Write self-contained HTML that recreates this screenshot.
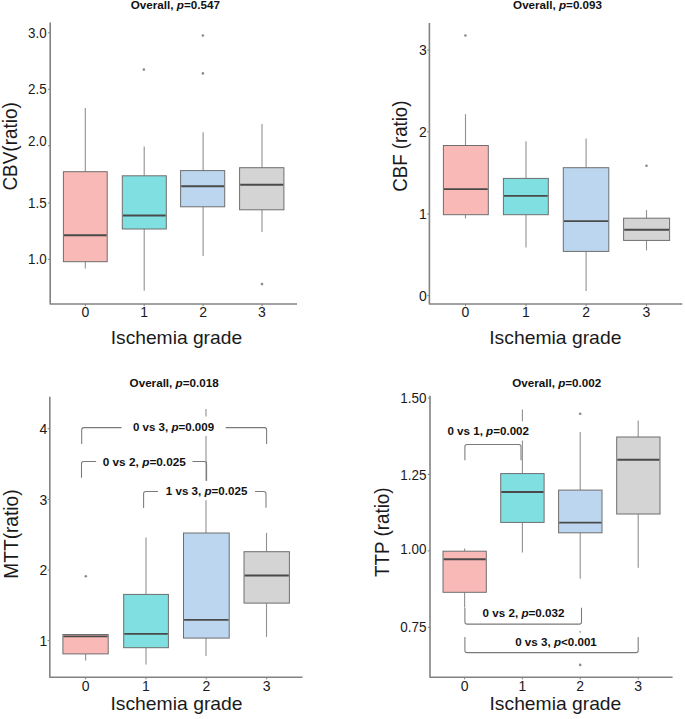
<!DOCTYPE html>
<html><head><meta charset="utf-8"><style>
html,body{margin:0;padding:0;background:#fff;}
svg{display:block;font-family:"Liberation Sans", sans-serif;}
</style></head><body>
<svg width="685" height="719" viewBox="0 0 685 719">
<rect width="685" height="719" fill="#fff"/>
<text x="130.7" y="8.8" font-size="11.6" text-anchor="start" font-weight="bold" fill="#111" textLength="89.3" lengthAdjust="spacingAndGlyphs" >Overall, <tspan font-style="italic">p</tspan>=0.547</text>
<path d="M50.2,22.6 L50.2,304 L297,304" fill="none" stroke="#828282" stroke-width="1.6" stroke-linejoin="round"/>
<line x1="48.0" y1="32.8" x2="50.2" y2="32.8" stroke="#828282" stroke-width="1.0"/>
<text x="46.6" y="37.8" font-size="14" text-anchor="end" font-weight="normal" fill="#1a1a1a" textLength="18.6" lengthAdjust="spacingAndGlyphs" >3.0</text>
<line x1="48.0" y1="89.3" x2="50.2" y2="89.3" stroke="#828282" stroke-width="1.0"/>
<text x="46.6" y="94.3" font-size="14" text-anchor="end" font-weight="normal" fill="#1a1a1a" textLength="18.6" lengthAdjust="spacingAndGlyphs" >2.5</text>
<line x1="48.0" y1="145.8" x2="50.2" y2="145.8" stroke="#828282" stroke-width="1.0"/>
<text x="46.6" y="145.8" font-size="14" text-anchor="end" font-weight="normal" fill="#1a1a1a" textLength="18.6" lengthAdjust="spacingAndGlyphs" >2.0</text>
<line x1="48.0" y1="203" x2="50.2" y2="203" stroke="#828282" stroke-width="1.0"/>
<text x="46.6" y="208.0" font-size="14" text-anchor="end" font-weight="normal" fill="#1a1a1a" textLength="18.6" lengthAdjust="spacingAndGlyphs" >1.5</text>
<line x1="48.0" y1="259.3" x2="50.2" y2="259.3" stroke="#828282" stroke-width="1.0"/>
<text x="46.6" y="264.3" font-size="14" text-anchor="end" font-weight="normal" fill="#1a1a1a" textLength="18.6" lengthAdjust="spacingAndGlyphs" >1.0</text>
<line x1="85.3" y1="304" x2="85.3" y2="306.2" stroke="#828282" stroke-width="1.0"/>
<text x="85.3" y="317.4" font-size="14" text-anchor="middle" font-weight="normal" fill="#1a1a1a" >0</text>
<line x1="144.2" y1="304" x2="144.2" y2="306.2" stroke="#828282" stroke-width="1.0"/>
<text x="144.2" y="317.4" font-size="14" text-anchor="middle" font-weight="normal" fill="#1a1a1a" >1</text>
<line x1="203.1" y1="304" x2="203.1" y2="306.2" stroke="#828282" stroke-width="1.0"/>
<text x="203.1" y="317.4" font-size="14" text-anchor="middle" font-weight="normal" fill="#1a1a1a" >2</text>
<line x1="262" y1="304" x2="262" y2="306.2" stroke="#828282" stroke-width="1.0"/>
<text x="262" y="317.4" font-size="14" text-anchor="middle" font-weight="normal" fill="#1a1a1a" >3</text>
<text x="110.7" y="344" font-size="19" text-anchor="start" font-weight="normal" fill="#1a1a1a" textLength="131.4" lengthAdjust="spacingAndGlyphs" >Ischemia grade</text>
<text transform="translate(16.9,146.4) rotate(-90)" x="0" y="0" font-size="20" text-anchor="middle" fill="#1a1a1a" textLength="88.3" lengthAdjust="spacingAndGlyphs">CBV(ratio)</text>
<line x1="85.3" y1="108" x2="85.3" y2="171.7" stroke="#909090" stroke-width="1.1"/>
<line x1="85.3" y1="261.7" x2="85.3" y2="268.5" stroke="#909090" stroke-width="1.1"/>
<rect x="63.4" y="171.7" width="43.80" height="90.00" fill="#f9b9b6" stroke="#6e6e6e" stroke-width="1.0"/>
<line x1="64.0" y1="235.2" x2="106.60000000000001" y2="235.2" stroke="#4a4a4a" stroke-width="1.9"/>
<line x1="144.2" y1="146.5" x2="144.2" y2="175.8" stroke="#909090" stroke-width="1.1"/>
<line x1="144.2" y1="229.0" x2="144.2" y2="290.7" stroke="#909090" stroke-width="1.1"/>
<rect x="122.3" y="175.8" width="44.00" height="53.20" fill="#7fdfe1" stroke="#6e6e6e" stroke-width="1.0"/>
<line x1="122.89999999999999" y1="215.5" x2="165.70000000000002" y2="215.5" stroke="#4a4a4a" stroke-width="1.9"/>
<line x1="203.1" y1="132.3" x2="203.1" y2="170.6" stroke="#909090" stroke-width="1.1"/>
<line x1="203.1" y1="206.8" x2="203.1" y2="256.0" stroke="#909090" stroke-width="1.1"/>
<rect x="180.6" y="170.6" width="44.10" height="36.20" fill="#bcd6f0" stroke="#6e6e6e" stroke-width="1.0"/>
<line x1="181.2" y1="186.2" x2="224.1" y2="186.2" stroke="#4a4a4a" stroke-width="1.9"/>
<line x1="262.0" y1="123.9" x2="262.0" y2="167.7" stroke="#909090" stroke-width="1.1"/>
<line x1="262.0" y1="209.8" x2="262.0" y2="231.9" stroke="#909090" stroke-width="1.1"/>
<rect x="239.6" y="167.7" width="44.30" height="42.10" fill="#d4d4d4" stroke="#6e6e6e" stroke-width="1.0"/>
<line x1="240.2" y1="184.8" x2="283.29999999999995" y2="184.8" stroke="#4a4a4a" stroke-width="1.9"/>
<circle cx="143.9" cy="69.6" r="1.3" fill="#8a8a8a"/>
<circle cx="202.9" cy="35.5" r="1.3" fill="#8a8a8a"/>
<circle cx="202.9" cy="73.4" r="1.3" fill="#8a8a8a"/>
<circle cx="262" cy="284.1" r="1.3" fill="#8a8a8a"/>
<text x="513.1" y="8.8" font-size="11.6" text-anchor="start" font-weight="bold" fill="#111" textLength="88.9" lengthAdjust="spacingAndGlyphs" >Overall, <tspan font-style="italic">p</tspan>=0.093</text>
<path d="M429.4,23 L429.4,304 L682.3,304" fill="none" stroke="#828282" stroke-width="1.6" stroke-linejoin="round"/>
<line x1="427.2" y1="50" x2="429.4" y2="50" stroke="#828282" stroke-width="1.0"/>
<text x="426.8" y="55.0" font-size="14" text-anchor="end" font-weight="normal" fill="#1a1a1a" >3</text>
<line x1="427.2" y1="131.8" x2="429.4" y2="131.8" stroke="#828282" stroke-width="1.0"/>
<text x="426.8" y="136.8" font-size="14" text-anchor="end" font-weight="normal" fill="#1a1a1a" >2</text>
<line x1="427.2" y1="214" x2="429.4" y2="214" stroke="#828282" stroke-width="1.0"/>
<text x="426.8" y="219.0" font-size="14" text-anchor="end" font-weight="normal" fill="#1a1a1a" >1</text>
<line x1="427.2" y1="295.6" x2="429.4" y2="295.6" stroke="#828282" stroke-width="1.0"/>
<text x="426.8" y="300.6" font-size="14" text-anchor="end" font-weight="normal" fill="#1a1a1a" >0</text>
<line x1="465.5" y1="304" x2="465.5" y2="306.2" stroke="#828282" stroke-width="1.0"/>
<text x="465.5" y="317.4" font-size="14" text-anchor="middle" font-weight="normal" fill="#1a1a1a" >0</text>
<line x1="526" y1="304" x2="526" y2="306.2" stroke="#828282" stroke-width="1.0"/>
<text x="526" y="317.4" font-size="14" text-anchor="middle" font-weight="normal" fill="#1a1a1a" >1</text>
<line x1="586.1" y1="304" x2="586.1" y2="306.2" stroke="#828282" stroke-width="1.0"/>
<text x="586.1" y="317.4" font-size="14" text-anchor="middle" font-weight="normal" fill="#1a1a1a" >2</text>
<line x1="646.5" y1="304" x2="646.5" y2="306.2" stroke="#828282" stroke-width="1.0"/>
<text x="646.5" y="317.4" font-size="14" text-anchor="middle" font-weight="normal" fill="#1a1a1a" >3</text>
<text x="489.2" y="344" font-size="19" text-anchor="start" font-weight="normal" fill="#1a1a1a" textLength="132.2" lengthAdjust="spacingAndGlyphs" >Ischemia grade</text>
<text transform="translate(407.4,146.15) rotate(-90)" x="0" y="0" font-size="20" text-anchor="middle" fill="#1a1a1a" textLength="91.2" lengthAdjust="spacingAndGlyphs">CBF (ratio)</text>
<line x1="465.5" y1="114.2" x2="465.5" y2="145.5" stroke="#909090" stroke-width="1.1"/>
<line x1="465.5" y1="214.7" x2="465.5" y2="218.5" stroke="#909090" stroke-width="1.1"/>
<rect x="443.4" y="145.5" width="44.90" height="69.20" fill="#f9b9b6" stroke="#6e6e6e" stroke-width="1.0"/>
<line x1="444.0" y1="189.1" x2="487.7" y2="189.1" stroke="#4a4a4a" stroke-width="1.9"/>
<line x1="526.0" y1="141.2" x2="526.0" y2="178.4" stroke="#909090" stroke-width="1.1"/>
<line x1="526.0" y1="214.7" x2="526.0" y2="247.6" stroke="#909090" stroke-width="1.1"/>
<rect x="503.4" y="178.4" width="44.90" height="36.30" fill="#7fdfe1" stroke="#6e6e6e" stroke-width="1.0"/>
<line x1="504.0" y1="195.9" x2="547.6999999999999" y2="195.9" stroke="#4a4a4a" stroke-width="1.9"/>
<line x1="586.1" y1="138.5" x2="586.1" y2="167.7" stroke="#909090" stroke-width="1.1"/>
<line x1="586.1" y1="251.4" x2="586.1" y2="291.0" stroke="#909090" stroke-width="1.1"/>
<rect x="563.3" y="167.7" width="45.50" height="83.70" fill="#bcd6f0" stroke="#6e6e6e" stroke-width="1.0"/>
<line x1="563.9" y1="221.1" x2="608.1999999999999" y2="221.1" stroke="#4a4a4a" stroke-width="1.9"/>
<line x1="646.5" y1="210.1" x2="646.5" y2="218.2" stroke="#909090" stroke-width="1.1"/>
<line x1="646.5" y1="240.4" x2="646.5" y2="250.3" stroke="#909090" stroke-width="1.1"/>
<rect x="623.6" y="218.2" width="46.00" height="22.20" fill="#d4d4d4" stroke="#6e6e6e" stroke-width="1.0"/>
<line x1="624.2" y1="229.8" x2="669.0" y2="229.8" stroke="#4a4a4a" stroke-width="1.9"/>
<circle cx="465.4" cy="35.5" r="1.3" fill="#8a8a8a"/>
<circle cx="646.5" cy="165.8" r="1.3" fill="#8a8a8a"/>
<text x="129.6" y="386.9" font-size="11.6" text-anchor="start" font-weight="bold" fill="#111" textLength="89.1" lengthAdjust="spacingAndGlyphs" >Overall, <tspan font-style="italic">p</tspan>=0.018</text>
<path d="M49.8,396.7 L49.8,677.2 L302.5,677.2" fill="none" stroke="#828282" stroke-width="1.6" stroke-linejoin="round"/>
<line x1="47.599999999999994" y1="428.7" x2="49.8" y2="428.7" stroke="#828282" stroke-width="1.0"/>
<text x="47.2" y="433.7" font-size="14" text-anchor="end" font-weight="normal" fill="#1a1a1a" >4</text>
<line x1="47.599999999999994" y1="499.5" x2="49.8" y2="499.5" stroke="#828282" stroke-width="1.0"/>
<text x="47.2" y="504.5" font-size="14" text-anchor="end" font-weight="normal" fill="#1a1a1a" >3</text>
<line x1="47.599999999999994" y1="570" x2="49.8" y2="570" stroke="#828282" stroke-width="1.0"/>
<text x="47.2" y="575.0" font-size="14" text-anchor="end" font-weight="normal" fill="#1a1a1a" >2</text>
<line x1="47.599999999999994" y1="640.6" x2="49.8" y2="640.6" stroke="#828282" stroke-width="1.0"/>
<text x="47.2" y="645.6" font-size="14" text-anchor="end" font-weight="normal" fill="#1a1a1a" >1</text>
<line x1="85.6" y1="677.2" x2="85.6" y2="679.4000000000001" stroke="#828282" stroke-width="1.0"/>
<text x="85.6" y="690.6" font-size="14" text-anchor="middle" font-weight="normal" fill="#1a1a1a" >0</text>
<line x1="146" y1="677.2" x2="146" y2="679.4000000000001" stroke="#828282" stroke-width="1.0"/>
<text x="146" y="690.6" font-size="14" text-anchor="middle" font-weight="normal" fill="#1a1a1a" >1</text>
<line x1="206.3" y1="677.2" x2="206.3" y2="679.4000000000001" stroke="#828282" stroke-width="1.0"/>
<text x="206.3" y="690.6" font-size="14" text-anchor="middle" font-weight="normal" fill="#1a1a1a" >2</text>
<line x1="266.7" y1="677.2" x2="266.7" y2="679.4000000000001" stroke="#828282" stroke-width="1.0"/>
<text x="266.7" y="690.6" font-size="14" text-anchor="middle" font-weight="normal" fill="#1a1a1a" >3</text>
<text x="110.4" y="709.7" font-size="19" text-anchor="start" font-weight="normal" fill="#1a1a1a" textLength="132.2" lengthAdjust="spacingAndGlyphs" >Ischemia grade</text>
<text transform="translate(18.1,534.05) rotate(-90)" x="0" y="0" font-size="20" text-anchor="middle" fill="#1a1a1a" textLength="89.3" lengthAdjust="spacingAndGlyphs">MTT(ratio)</text>
<line x1="85.6" y1="653.9" x2="85.6" y2="660.5" stroke="#909090" stroke-width="1.1"/>
<rect x="62.9" y="634.5" width="45.30" height="19.40" fill="#f9b9b6" stroke="#6e6e6e" stroke-width="1.0"/>
<line x1="63.5" y1="636.4" x2="107.60000000000001" y2="636.4" stroke="#4a4a4a" stroke-width="1.9"/>
<line x1="146.0" y1="537.5" x2="146.0" y2="594.4" stroke="#909090" stroke-width="1.1"/>
<line x1="146.0" y1="647.7" x2="146.0" y2="664.6" stroke="#909090" stroke-width="1.1"/>
<rect x="123.7" y="594.4" width="44.70" height="53.30" fill="#7fdfe1" stroke="#6e6e6e" stroke-width="1.0"/>
<line x1="124.3" y1="633.9" x2="167.8" y2="633.9" stroke="#4a4a4a" stroke-width="1.9"/>
<line x1="206.0" y1="409.0" x2="206.0" y2="416.5" stroke="#909090" stroke-width="1.1"/>
<line x1="206.0" y1="436" x2="206.0" y2="480.8" stroke="#909090" stroke-width="1.1"/>
<line x1="206.0" y1="500.3" x2="206.0" y2="533.0" stroke="#909090" stroke-width="1.1"/>
<line x1="206.0" y1="638.1" x2="206.0" y2="656.1" stroke="#909090" stroke-width="1.1"/>
<rect x="183.5" y="533.0" width="45.70" height="105.10" fill="#bcd6f0" stroke="#6e6e6e" stroke-width="1.0"/>
<line x1="184.1" y1="619.9" x2="228.6" y2="619.9" stroke="#4a4a4a" stroke-width="1.9"/>
<line x1="266.5" y1="532.9" x2="266.5" y2="551.7" stroke="#909090" stroke-width="1.1"/>
<line x1="266.5" y1="603.1" x2="266.5" y2="636.9" stroke="#909090" stroke-width="1.1"/>
<rect x="244.0" y="551.7" width="45.40" height="51.40" fill="#d4d4d4" stroke="#6e6e6e" stroke-width="1.0"/>
<line x1="244.6" y1="575.5" x2="288.79999999999995" y2="575.5" stroke="#4a4a4a" stroke-width="1.9"/>
<circle cx="85.8" cy="576.3" r="1.3" fill="#8a8a8a"/>
<path d="M81.7,444 L81.7,429.8 Q81.7,427.6 83.9,427.6 L121.5,427.6" fill="none" stroke="#7a7a7a" stroke-width="1.05"/>
<path d="M225.7,427.6 L264.40000000000003,427.6 Q266.6,427.6 266.6,429.8 L266.6,444" fill="none" stroke="#7a7a7a" stroke-width="1.05"/>
<text x="132.9" y="430.9" font-size="11.6" text-anchor="start" font-weight="bold" fill="#111" textLength="81.2" lengthAdjust="spacingAndGlyphs" >0 vs 3, <tspan font-style="italic">p</tspan>=0.009</text>
<path d="M81.5,477.7 L81.5,463.7 Q81.5,461.5 83.7,461.5 L96.1,461.5" fill="none" stroke="#7a7a7a" stroke-width="1.05"/>
<path d="M192.5,461.5 L204.4,461.5 Q206.6,461.5 206.6,463.7 L206.6,480.8" fill="none" stroke="#7a7a7a" stroke-width="1.05"/>
<text x="102.7" y="465.6" font-size="11.6" text-anchor="start" font-weight="bold" fill="#111" textLength="83.2" lengthAdjust="spacingAndGlyphs" >0 vs 2, <tspan font-style="italic">p</tspan>=0.025</text>
<path d="M143.6,507.9 L143.6,493.59999999999997 Q143.6,491.4 145.79999999999998,491.4 L157.9,491.4" fill="none" stroke="#7a7a7a" stroke-width="1.05"/>
<path d="M255.1,491.4 L263.8,491.4 Q266.0,491.4 266.0,493.59999999999997 L266.0,507.7" fill="none" stroke="#7a7a7a" stroke-width="1.05"/>
<text x="165.8" y="495.2" font-size="11.6" text-anchor="start" font-weight="bold" fill="#111" textLength="81.6" lengthAdjust="spacingAndGlyphs" >1 vs 3, <tspan font-style="italic">p</tspan>=0.025</text>
<text x="512.2" y="386.7" font-size="11.6" text-anchor="start" font-weight="bold" fill="#111" textLength="89.1" lengthAdjust="spacingAndGlyphs" >Overall, <tspan font-style="italic">p</tspan>=0.002</text>
<path d="M430.0,395.8 L430.0,677.2 L672.6,677.2" fill="none" stroke="#828282" stroke-width="1.6" stroke-linejoin="round"/>
<line x1="427.8" y1="398.1" x2="430.0" y2="398.1" stroke="#828282" stroke-width="1.0"/>
<text x="426.4" y="403.3" font-size="14" text-anchor="end" font-weight="normal" fill="#1a1a1a" textLength="26.2" lengthAdjust="spacingAndGlyphs" >1.50</text>
<line x1="427.8" y1="474.5" x2="430.0" y2="474.5" stroke="#828282" stroke-width="1.0"/>
<text x="426.4" y="480.4" font-size="14" text-anchor="end" font-weight="normal" fill="#1a1a1a" textLength="26.2" lengthAdjust="spacingAndGlyphs" >1.25</text>
<line x1="427.8" y1="550.9" x2="430.0" y2="550.9" stroke="#828282" stroke-width="1.0"/>
<text x="426.4" y="554.1" font-size="14" text-anchor="end" font-weight="normal" fill="#1a1a1a" textLength="26.2" lengthAdjust="spacingAndGlyphs" >1.00</text>
<line x1="427.8" y1="627.3" x2="430.0" y2="627.3" stroke="#828282" stroke-width="1.0"/>
<text x="426.4" y="632.3" font-size="14" text-anchor="end" font-weight="normal" fill="#1a1a1a" textLength="26.2" lengthAdjust="spacingAndGlyphs" >0.75</text>
<line x1="464.6" y1="677.2" x2="464.6" y2="679.4000000000001" stroke="#828282" stroke-width="1.0"/>
<text x="464.6" y="690.6" font-size="14" text-anchor="middle" font-weight="normal" fill="#1a1a1a" >0</text>
<line x1="522.3" y1="677.2" x2="522.3" y2="679.4000000000001" stroke="#828282" stroke-width="1.0"/>
<text x="522.3" y="690.6" font-size="14" text-anchor="middle" font-weight="normal" fill="#1a1a1a" >1</text>
<line x1="580.2" y1="677.2" x2="580.2" y2="679.4000000000001" stroke="#828282" stroke-width="1.0"/>
<text x="580.2" y="690.6" font-size="14" text-anchor="middle" font-weight="normal" fill="#1a1a1a" >2</text>
<line x1="638.2" y1="677.2" x2="638.2" y2="679.4000000000001" stroke="#828282" stroke-width="1.0"/>
<text x="638.2" y="690.6" font-size="14" text-anchor="middle" font-weight="normal" fill="#1a1a1a" >3</text>
<text x="489.5" y="709.7" font-size="19" text-anchor="start" font-weight="normal" fill="#1a1a1a" textLength="131.8" lengthAdjust="spacingAndGlyphs" >Ischemia grade</text>
<text transform="translate(388.8,532.2) rotate(-90)" x="0" y="0" font-size="20" text-anchor="middle" fill="#1a1a1a" textLength="89.6" lengthAdjust="spacingAndGlyphs">TTP (ratio)</text>
<line x1="464.6" y1="548.4" x2="464.6" y2="551.2" stroke="#909090" stroke-width="1.1"/>
<line x1="464.6" y1="592.3" x2="464.6" y2="607.5" stroke="#909090" stroke-width="1.1"/>
<rect x="443.0" y="551.2" width="43.30" height="41.10" fill="#f9b9b6" stroke="#6e6e6e" stroke-width="1.0"/>
<line x1="443.6" y1="559.3" x2="485.7" y2="559.3" stroke="#4a4a4a" stroke-width="1.9"/>
<line x1="522.4" y1="409.5" x2="522.4" y2="421.2" stroke="#909090" stroke-width="1.1"/>
<line x1="522.4" y1="440.6" x2="522.4" y2="473.6" stroke="#909090" stroke-width="1.1"/>
<line x1="522.4" y1="522.4" x2="522.4" y2="552.6" stroke="#909090" stroke-width="1.1"/>
<rect x="500.7" y="473.6" width="43.40" height="48.80" fill="#7fdfe1" stroke="#6e6e6e" stroke-width="1.0"/>
<line x1="501.3" y1="492.0" x2="543.5" y2="492.0" stroke="#4a4a4a" stroke-width="1.9"/>
<line x1="580.2" y1="432.1" x2="580.2" y2="490.1" stroke="#909090" stroke-width="1.1"/>
<line x1="580.2" y1="532.8" x2="580.2" y2="578.7" stroke="#909090" stroke-width="1.1"/>
<rect x="558.6" y="490.1" width="43.40" height="42.70" fill="#bcd6f0" stroke="#6e6e6e" stroke-width="1.0"/>
<line x1="559.2" y1="522.6" x2="601.4" y2="522.6" stroke="#4a4a4a" stroke-width="1.9"/>
<line x1="638.2" y1="420.5" x2="638.2" y2="437.0" stroke="#909090" stroke-width="1.1"/>
<line x1="638.2" y1="514.0" x2="638.2" y2="567.8" stroke="#909090" stroke-width="1.1"/>
<rect x="616.7" y="437.0" width="43.30" height="77.00" fill="#d4d4d4" stroke="#6e6e6e" stroke-width="1.0"/>
<line x1="617.3000000000001" y1="459.7" x2="659.4" y2="459.7" stroke="#4a4a4a" stroke-width="1.9"/>
<circle cx="580.2" cy="413.7" r="1.3" fill="#8a8a8a"/>
<circle cx="580.2" cy="631.8" r="1.0" fill="#b0b0b0"/>
<circle cx="580.2" cy="664.9" r="1.3" fill="#8a8a8a"/>
<path d="M464.9,460.2 L464.9,446.59999999999997 Q464.9,444.4 467.09999999999997,444.4 L518.8,444.4 Q521.0,444.4 521.0,446.59999999999997 L521.0,460.2" fill="none" stroke="#7a7a7a" stroke-width="1.05"/>
<text x="447.4" y="435.0" font-size="11.6" text-anchor="start" font-weight="bold" fill="#111" textLength="81.6" lengthAdjust="spacingAndGlyphs" >0 vs 1, <tspan font-style="italic">p</tspan>=0.002</text>
<path d="M464.9,607.8 L464.9,621.9 Q464.9,624.1 467.09999999999997,624.1 L579.3,624.1 Q581.5,624.1 581.5,621.9 L581.5,607.8" fill="none" stroke="#7a7a7a" stroke-width="1.05"/>
<text x="482.6" y="616.5" font-size="11.6" text-anchor="start" font-weight="bold" fill="#111" textLength="81.8" lengthAdjust="spacingAndGlyphs" >0 vs 2, <tspan font-style="italic">p</tspan>=0.032</text>
<path d="M464.9,636.9 L464.9,650.4 Q464.9,652.6 467.09999999999997,652.6 L636.0,652.6 Q638.2,652.6 638.2,650.4 L638.2,636.9" fill="none" stroke="#7a7a7a" stroke-width="1.05"/>
<text x="515.2" y="645.5" font-size="11.6" text-anchor="start" font-weight="bold" fill="#111" textLength="81.6" lengthAdjust="spacingAndGlyphs" >0 vs 3, <tspan font-style="italic">p</tspan>&lt;0.001</text>
</svg>
</body></html>
